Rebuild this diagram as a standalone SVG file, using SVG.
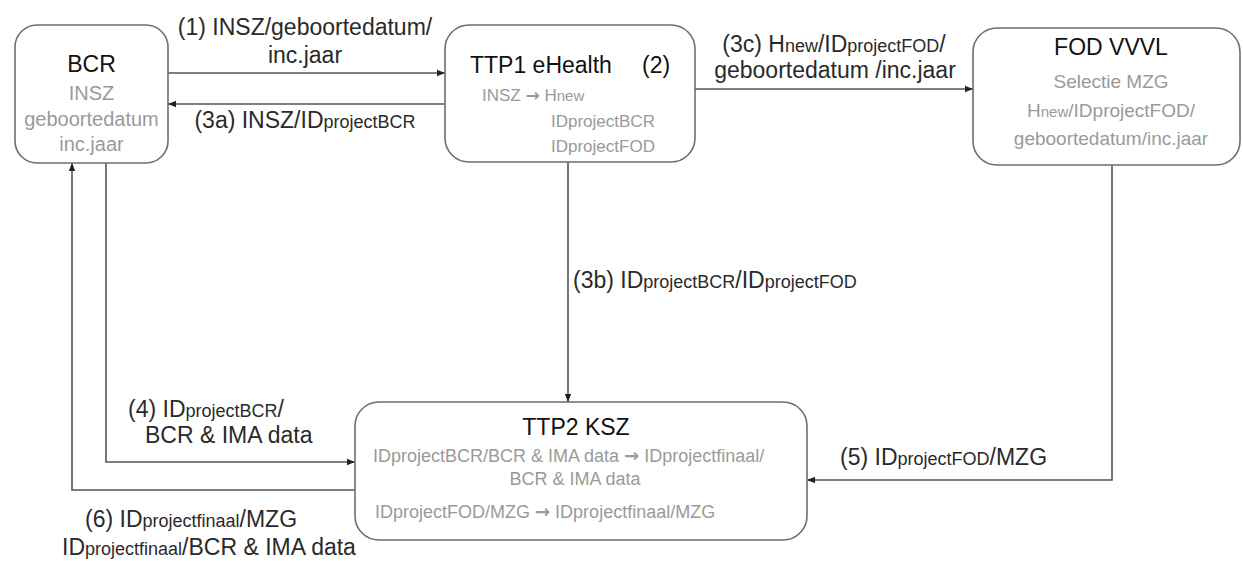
<svg xmlns="http://www.w3.org/2000/svg" width="1243" height="561" viewBox="0 0 1243 561">
<style>
text{font-family:"Liberation Sans",Arial,sans-serif}
.box{fill:#fff;stroke:#6e6e6e;stroke-width:1.6}
.title{font-size:23px;fill:#111}
.g20{font-size:20px;fill:#9a9a9a}
.g19{font-size:19px;fill:#9a9a9a}
.g17{font-size:17px;fill:#9a9a9a}
.g18{font-size:18px;fill:#9a9a9a}
.lbl{font-size:23px;fill:#2a2a2a}
.s{font-size:18px}
.sg{font-size:15px}
.ar{font-family:"DejaVu Sans",sans-serif;font-weight:bold}
.mid{text-anchor:middle}
.con{fill:none;stroke:#555;stroke-width:1.6}
</style>
<defs>
<marker id="ah" viewBox="0 0 10 10" refX="10" refY="5" markerWidth="8" markerHeight="8" markerUnits="userSpaceOnUse" orient="auto">
<path d="M0,1 L10,5 L0,9 z" fill="#222"/>
</marker>
</defs>
<g id="connectors">
<path class="con" d="M168,73 H445" marker-end="url(#ah)"/>
<path class="con" d="M445,104 H168" marker-end="url(#ah)"/>
<path class="con" d="M695,89 H973" marker-end="url(#ah)"/>
<path class="con" d="M568,162 V402" marker-end="url(#ah)"/>
<path class="con" d="M106,163 V462 H355" marker-end="url(#ah)"/>
<path class="con" d="M355,490 H72 V163" marker-end="url(#ah)"/>
<path class="con" d="M1112,165 V480 H807" marker-end="url(#ah)"/>
</g>
<g id="labels">
<text class="lbl mid" x="305" y="35">(1)  INSZ/geboortedatum/</text>
<text class="lbl mid" x="305" y="63">inc.jaar</text>
<text class="lbl mid" x="305" y="128">(3a) INSZ/ID<tspan class="s">projectBCR</tspan></text>
<text class="lbl mid" x="834" y="52">(3c) H<tspan class="s">new</tspan>/ID<tspan class="s">projectFOD</tspan>/</text>
<text class="lbl mid" x="835" y="78">geboortedatum /inc.jaar</text>
<text class="lbl" x="573" y="288">(3b) ID<tspan class="s">projectBCR</tspan>/ID<tspan class="s">projectFOD</tspan></text>
<text class="lbl" x="128" y="417">(4) ID<tspan class="s">projectBCR</tspan>/</text>
<text class="lbl" x="145" y="443">BCR &amp; IMA data</text>
<text class="lbl" x="840" y="465">(5) ID<tspan class="s">projectFOD</tspan>/MZG</text>
<text class="lbl" x="85" y="527">(6) ID<tspan class="s">projectfinaal</tspan>/MZG</text>
<text class="lbl" x="62" y="555">ID<tspan class="s">projectfinaal</tspan>/BCR &amp; IMA data</text>
</g>
<g id="bcr">
<rect class="box" x="15" y="25" width="153" height="138" rx="22"/>
<text class="title mid" x="91.5" y="72">BCR</text>
<text class="g20 mid" x="91.5" y="100">INSZ</text>
<text class="g20 mid" x="91.5" y="126">geboortedatum</text>
<text class="g20 mid" x="91.5" y="151">inc.jaar</text>
</g>
<g id="ttp1">
<rect class="box" x="445" y="25" width="250" height="137" rx="24"/>
<text class="title" x="470" y="73">TTP1 eHealth</text>
<text class="title" x="642" y="73">(2)</text>
<text class="g17" x="482" y="101">INSZ <tspan class="ar">→</tspan> H<tspan class="sg">new</tspan></text>
<text class="g17" x="551" y="127">IDprojectBCR</text>
<text class="g17" x="551" y="152">IDprojectFOD</text>
</g>
<g id="fod">
<rect class="box" x="973" y="28" width="267" height="137" rx="24"/>
<text class="title mid" x="1111" y="55">FOD VVVL</text>
<text class="g19 mid" x="1111" y="88">Selectie MZG</text>
<text class="g19 mid" x="1111" y="117">H<tspan class="sg">new</tspan>/IDprojectFOD/</text>
<text class="g19 mid" x="1111" y="145">geboortedatum/inc.jaar</text>
</g>
<g id="ttp2">
<rect class="box" x="355" y="402" width="452" height="138" rx="24"/>
<text class="title mid" x="576" y="435">TTP2 KSZ</text>
<text class="g18" x="373" y="462">IDprojectBCR/BCR &amp; IMA data <tspan class="ar">→</tspan> IDprojectfinaal/</text>
<text class="g18 mid" x="575" y="485">BCR &amp; IMA data</text>
<text class="g18" x="375" y="518">IDprojectFOD/MZG <tspan class="ar">→</tspan> IDprojectfinaal/MZG</text>
</g>
</svg>
